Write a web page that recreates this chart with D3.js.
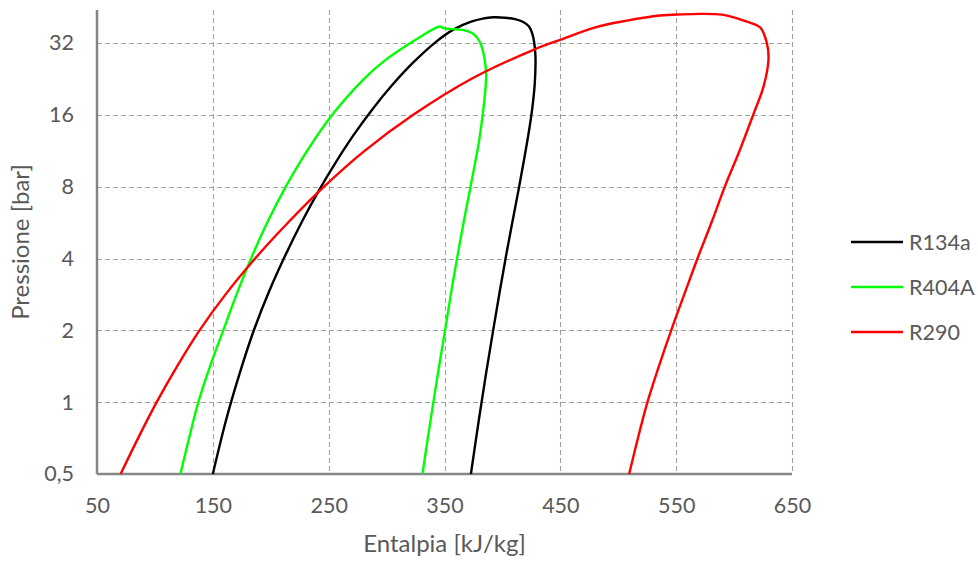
<!DOCTYPE html>
<html>
<head>
<meta charset="utf-8">
<script src="https://cdn.jsdelivr.net/npm/d3@7/dist/d3.min.js"></script>
<style>
  html, body { margin: 0; padding: 0; background: #ffffff; }
  svg { display: block; font-family: Lato, "Open Sans", sans-serif; }
</style>
</head>
<body>
<svg id="chart" width="978" height="565"></svg>
<script>
// Saturation domes: enthalpy [kJ/kg] and pressure [bar], liquid side up to the top, then vapour side down
const r134aH = [150, 161.5, 173.3, 185.5, 198.8, 212.8, 227, 241.5, 256.4, 271.6, 287.5, 304.3, 322.4, 342.9, 358, 373, 383, 392,
                402, 411, 418, 422.8, 425.8, 427.5, 428.4, 428.6, 427.8, 425.6, 422.4, 418.4, 413.8, 408.7, 403.3, 397.8, 392, 386, 379.6, 372.8];
const r134aP = [0.5, 0.844, 1.327, 2.006, 2.928, 4.146, 5.717, 7.702, 10.166, 13.179, 16.818, 21.168, 26.332, 32.442, 36.5, 39.3, 40.5, 41.0,
                40.85, 40.3, 39.2, 37.6, 35, 32, 29, 26.3, 21.2, 16.8, 13.2, 10.2, 7.7, 5.72, 4.15, 2.93, 2.0, 1.33, 0.84, 0.5];

const r404aH = [122, 129.5, 137.5, 147.5, 159, 170.5, 183, 197, 213, 231.4, 253.1, 280.3, 298.4, 320.5, 331.5, 340, 346,
                350, 357, 364, 370.5, 376, 380.5, 383.5, 385.3, 386, 385.5, 384.2, 382.2, 379.7, 376.3, 372.5, 369.4, 366.5, 360.8, 355.5, 350.5, 345.3, 340.4, 335.6, 331];
const r404aP = [0.5, 0.707, 1.0, 1.41, 2.0, 2.83, 4.0, 5.66, 8.0, 11.3, 16, 22.6, 27, 32, 34.5, 36.5, 37.5,
                36.85, 36.6, 36.4, 35.8, 34.6, 32.3, 29.2, 26, 23.5, 21, 18, 15, 12.3, 10, 8, 6.7, 5.66, 4.0, 2.83, 2.0, 1.41, 1.0, 0.707, 0.5];

const r290H = [70.4, 85.5, 101.5, 119, 138.5, 161, 186.5, 215, 246, 281, 323, 373, 426.8, 449.8, 481, 507.4, 536, 555, 570.7,
               583, 594, 611, 622.5, 628.3, 629.7, 625.4, 616.5, 605, 592, 580.5, 568.4, 557, 545.7, 535, 525.2, 517, 509.4];
const r290P = [0.5, 0.707, 1.0, 1.41, 2.0, 2.83, 4.0, 5.66, 8.0, 11.3, 16, 22.6, 29.96, 33, 37.3, 39.7, 41.7, 42.2, 42.4,
               42.3, 41.7, 39.3, 37.2, 32, 27.3, 21, 16, 11.4, 8, 5.66, 4, 2.83, 2, 1.41, 1, 0.707, 0.5];

const seriesNames = ["R134a", "R404A", "R290"];
const seriesColors = ["#000000", "#00ff00", "#ff0000"];

const xTicks = [50, 150, 250, 350, 450, 550, 650];
const yTicks = [0.5, 1, 2, 4, 8, 16, 32];
const yTickLabels = ["0,5", "1", "2", "4", "8", "16", "32"];

const xTitle = "Entalpia [kJ/kg]";
const yTitle = "Pressione [bar]";

const series = [
  { name: seriesNames[0], color: seriesColors[0], pts: r134aH.map((h, i) => [h, r134aP[i]]) },
  { name: seriesNames[1], color: seriesColors[1], pts: r404aH.map((h, i) => [h, r404aP[i]]) },
  { name: seriesNames[2], color: seriesColors[2], pts: r290H.map((h, i) => [h, r290P[i]]) }
];

const plot = { left: 97, right: 792, top: 10, bottom: 474 };
const textColor = "#595959";
const gridColor = "#a0a0a0";
const axisColor = "#868686";

const svg = d3.select("#chart");

const x = d3.scaleLinear().domain([50, 650]).range([plot.left, plot.right]);
const y = d3.scaleLog().base(2).domain([0.5, 44]).range([plot.bottom, plot.top]);

// Grid
const grid = svg.append("g").attr("class", "grid")
  .attr("stroke", gridColor).attr("stroke-width", 1.1).attr("stroke-dasharray", "5,3");

grid.selectAll("line.v").data(xTicks.slice(1)).join("line")
  .attr("class", "v")
  .attr("x1", d => Math.round(x(d)) + 0.5).attr("x2", d => Math.round(x(d)) + 0.5)
  .attr("y1", plot.top).attr("y2", plot.bottom);

grid.selectAll("line.h").data(yTicks.slice(1)).join("line")
  .attr("class", "h")
  .attr("x1", plot.left).attr("x2", plot.right)
  .attr("y1", d => Math.round(y(d)) + 0.5).attr("y2", d => Math.round(y(d)) + 0.5);

// Axes
const xAxis = d3.axisBottom(x).tickValues(xTicks).tickSize(0).tickPadding(24).tickFormat(d3.format("d"));
const yAxis = d3.axisLeft(y).tickValues(yTicks).tickSize(0).tickPadding(23)
  .tickFormat((d, i) => yTickLabels[i]);

const gx = svg.append("g").attr("transform", `translate(0,${plot.bottom})`).call(xAxis);
const gy = svg.append("g").attr("transform", `translate(${plot.left},0)`).call(yAxis);

[gx, gy].forEach(g => {
  g.select(".domain").attr("stroke", axisColor).attr("stroke-width", 2.5);
  g.selectAll("text").attr("fill", textColor).attr("font-size", 21.5)
    .attr("font-family", "Lato, 'Open Sans', sans-serif");
});
gx.select(".domain").attr("d", `M${plot.left},0H${plot.right}`);
gy.select(".domain").attr("d", `M0,${plot.bottom}V${plot.top}`);

// Curves
const line = d3.line()
  .x(d => x(d[0]))
  .y(d => y(d[1]))
  .curve(d3.curveCatmullRom.alpha(0.5));

svg.append("g").attr("class", "curves")
  .selectAll("path").data(series).join("path")
  .attr("d", d => line(d.pts))
  .attr("fill", "none")
  .attr("stroke", d => d.color)
  .attr("stroke-width", 2.4)
  .attr("stroke-linejoin", "round")
  .attr("stroke-linecap", "butt");

// Axis titles
svg.append("text")
  .attr("x", (plot.left + plot.right) / 2).attr("y", 552)
  .attr("text-anchor", "middle")
  .attr("fill", textColor).attr("font-size", 24)
  .text(xTitle);

svg.append("text")
  .attr("transform", `translate(29,${(plot.top + plot.bottom) / 2}) rotate(-90)`)
  .attr("text-anchor", "middle")
  .attr("fill", textColor).attr("font-size", 24)
  .text(yTitle);

// Legend
const legend = svg.append("g").attr("class", "legend");
const legendRows = legend.selectAll("g").data(series).join("g")
  .attr("transform", (d, i) => `translate(851,${242 + i * 45})`);
legendRows.append("line")
  .attr("x1", 0).attr("x2", 52).attr("y1", 0).attr("y2", 0)
  .attr("stroke", d => d.color).attr("stroke-width", 2.4);
legendRows.append("text")
  .attr("x", 58).attr("y", 0).attr("dy", "0.35em")
  .attr("fill", textColor).attr("font-size", 21.5)
  .text(d => d.name);
</script>
</body>
</html>
